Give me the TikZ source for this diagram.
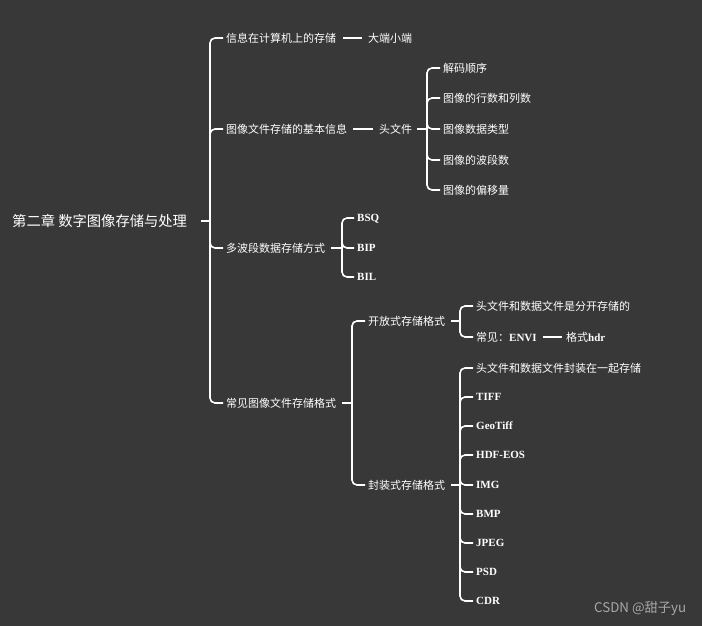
\documentclass[tikz,border=0pt]{standalone}
\usepackage{fontspec}
\setmainfont{Liberation Serif}
\newfontfamily\cjk{Noto Sans CJK SC}
\definecolor{bg}{HTML}{383838}
\definecolor{wm}{HTML}{A8A8A8}
\begin{document}
\begin{tikzpicture}[x=1pt,y=-1pt,
 txt/.style={anchor=west,inner sep=0pt,text=white,font=\cjk\fontsize{11}{13}\selectfont},
 lat/.style={anchor=west,inner sep=0pt,text=white,font=\rmfamily\bfseries\fontsize{11}{13}\selectfont,text height=7.4pt,text depth=0pt},
 br/.style={draw=white,line width=1.6pt,rounded corners=5pt},
 ln/.style={draw=white,line width=1.6pt}]
\fill[bg] (0,0) rectangle (702,626);
\useasboundingbox (0,0) rectangle (702,626);
% root
\node[txt,font=\cjk\fontsize{14.3}{16}\selectfont] (root) at (12,221) {第二章 数字图像存储与处理};
\coordinate (r0) at (201,221);
\coordinate (j0) at (210,221);
\draw[ln] (r0) -- (j0);
% level 1
\node[txt] (a1) at (226,38) {信息在计算机上的存储};
\node[txt] (a2) at (226,129) {图像文件存储的基本信息};
\node[txt] (a3) at (226,248) {多波段数据存储方式};
\node[txt] (a4) at (226,403) {常见图像文件存储格式};
\foreach \n in {a1,a2,a3,a4} \draw[br] (j0) |- ([xshift=-3pt]\n.west);
% a1
\node[txt] (b1) at (368,38) {大端小端};
\draw[ln] ([xshift=7pt]a1.east) -- ([xshift=-6pt]b1.west);
% a2
\node[txt] (h) at (379,129) {头文件};
\draw[ln] ([xshift=6pt]a2.east) -- ([xshift=-6pt]h.west);
\coordinate (j1) at (427,129);
\draw[ln] ([xshift=5pt]h.east) -- (j1);
\node[txt] (c1) at (443,68) {解码顺序};
\node[txt] (c2) at (443,98) {图像的行数和列数};
\node[txt] (c3) at (443,129) {图像数据类型};
\node[txt] (c4) at (443,160) {图像的波段数};
\node[txt] (c5) at (443,190) {图像的偏移量};
\foreach \n in {c1,c2,c3,c4,c5} \draw[br] (j1) |- ([xshift=-3pt]\n.west);
% a3
\coordinate (j2) at (342,248);
\draw[ln] ([xshift=6pt]a3.east) -- (j2);
\node[lat] (d1) at (357,218) {BSQ};
\node[lat] (d2) at (357,248) {BIP};
\node[lat] (d3) at (357,277) {BIL};
\foreach \n in {d1,d2,d3} \draw[br] (j2) |- ([xshift=-3pt]\n.west);
% a4
\coordinate (j3) at (352,403);
\draw[ln] ([xshift=6pt]a4.east) -- (j3);
\node[txt] (o1) at (368,321) {开放式存储格式};
\node[txt] (o2) at (368,485) {封装式存储格式};
\foreach \n in {o1,o2} \draw[br] (j3) |- ([xshift=-3pt]\n.west);
% o1
\coordinate (j4) at (460,321);
\draw[ln] ([xshift=6pt]o1.east) -- (j4);
\node[txt] (e1) at (476,306) {头文件和数据文件是分开存储的};
\node[txt] (e2) at (476,337) {常见：{\rmfamily\bfseries ENVI}};
\foreach \n in {e1,e2} \draw[br] (j4) |- ([xshift=-3pt]\n.west);
\node[txt] (e3) at (566,337) {格式{\rmfamily\bfseries hdr}};
\draw[ln] ([xshift=6pt]e2.east) -- ([xshift=-4pt]e3.west);
% o2
\coordinate (j5) at (460,485);
\draw[ln] ([xshift=6pt]o2.east) -- (j5);
\node[txt] (f1) at (476,368) {头文件和数据文件封装在一起存储};
\node[lat] (f2) at (476,397) {TIFF};
\node[lat] (f3) at (476,426) {GeoTiff};
\node[lat] (f4) at (476,455) {HDF-EOS};
\node[lat] (f5) at (476,485) {IMG};
\node[lat] (f6) at (476,514) {BMP};
\node[lat] (f7) at (476,543) {JPEG};
\node[lat] (f8) at (476,572) {PSD};
\node[lat] (f9) at (476,601) {CDR};
\foreach \n in {f1,f2,f3,f4,f5,f6,f7,f8,f9} \draw[br] (j5) |- ([xshift=-3pt]\n.west);
% watermark
\node[anchor=west,inner sep=0pt,text=wm,font=\cjk\fontsize{13.3}{15}\selectfont] (wmk) at (594,608) {CSDN @甜子yu};
\end{tikzpicture}
\end{document}
